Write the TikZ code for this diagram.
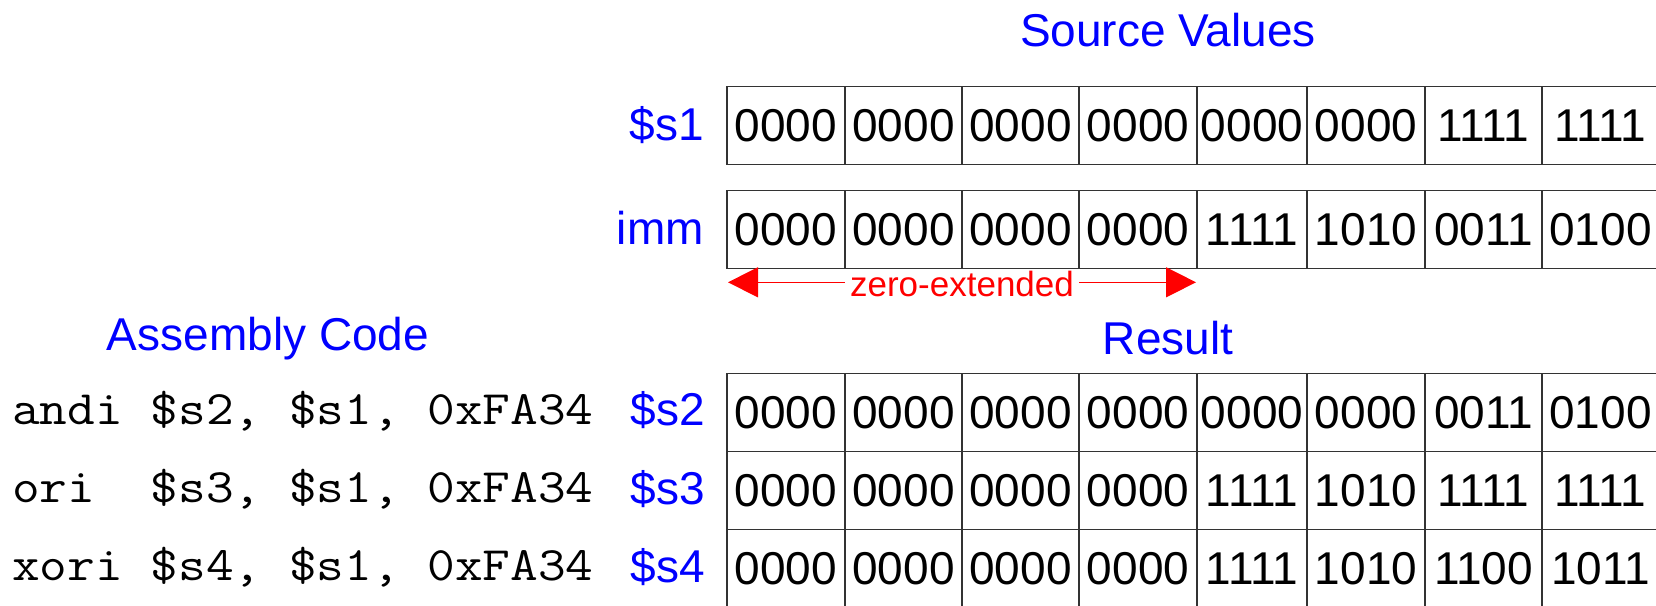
\documentclass[tikz,border=0pt]{standalone}
\usepackage{fontspec}
\usepackage{graphicx}
\setmainfont{Liberation Sans}
\usetikzlibrary{arrows.meta}
\definecolor{labelblue}{RGB}{0,0,255}
\definecolor{extred}{RGB}{255,0,0}

% one register drawn as eight nibble cells; #1 name, #2 centre y, #3 nibbles
\newcommand\bitrow[3]{%
  \foreach \v [count=\i] in {#3} {
    \pgfmathsetmacro\cl{{727,845,962,1079,1197,1307,1425,1542}[\i-1]}
    \pgfmathsetmacro\cr{{845,962,1079,1197,1307,1425,1542,1659}[\i-1]}
    \node[bit, minimum width={\cr-\cl}] (#1-\i) at ({(\cl+\cr)/2},#2) {\v};
  }}

\begin{document}
\begin{tikzpicture}[x=1pt,y=-1pt,
  bit/.style={draw=black!80, line width=1.3pt, minimum height=78pt,
    inner sep=0pt, font=\fontsize{46}{50}\selectfont, anchor=center},
  reglabel/.style={text=labelblue, font=\fontsize{46}{50}\selectfont,
    anchor=base east, inner sep=0pt},
  heading/.style={text=labelblue, font=\fontsize{46}{50}\selectfont,
    anchor=base, inner sep=0pt},
  code/.style={font=\fontsize{48}{52}\selectfont\ttfamily,
    anchor=base west, inner sep=0pt},
  extarrow/.style={extred, line width=1.3pt,
    {Triangle[length=30pt,width=30pt]}-{Triangle[length=30pt,width=30pt]}},
]
\useasboundingbox (0,0) rectangle (1656,605);
\clip (0,0) rectangle (1656,605);

% source operands
\node[heading] (srctitle) at (1168,46.7) {Source Values};
\node[reglabel] (s1lab) at (704,140) {\$s1};
\node[reglabel] (immlab) at (704,244) {imm};
\bitrow{s1}{125.2}{0000,0000,0000,0000,0000,0000,1111,1111}
\bitrow{imm}{229.7}{0000,0000,0000,0000,1111,1010,0011,0100}

% zero extension of the immediate
\coordinate (zl) at (728,282.3);
\coordinate (zr) at (1196,282.3);
\draw[extarrow] (zl) -- node[fill=white, text=extred,
  font=\fontsize{35}{40}\selectfont, inner xsep=5pt, inner ysep=0pt,
  yshift=-2pt] (zx) {zero-extended} (zr);

% assembly code and results
\node[heading] (asmtitle) at (268,350.7) {Assembly Code};
\node[heading] (restitle) at (1168,354) {Result};

\node[code] (andi) at (12,424) {\scalebox{1.12}[1]{andi \$s2, \$s1, 0xFA34}};
\node[code] (ori)  at (12,502) {\scalebox{1.12}[1]{ori\ \ \$s3, \$s1, 0xFA34}};
\node[code] (xori) at (12,580) {\scalebox{1.12}[1]{xori \$s4, \$s1, 0xFA34}};

\node[reglabel] (s2lab) at (705,425) {\$s2};
\node[reglabel] (s3lab) at (705,504) {\$s3};
\node[reglabel] (s4lab) at (705,582) {\$s4};

\bitrow{s2}{412.5}{0000,0000,0000,0000,0000,0000,0011,0100}
\bitrow{s3}{490.5}{0000,0000,0000,0000,1111,1010,1111,1111}
\bitrow{s4}{568.5}{0000,0000,0000,0000,1111,1010,1100,1011}
\end{tikzpicture}
\end{document}
